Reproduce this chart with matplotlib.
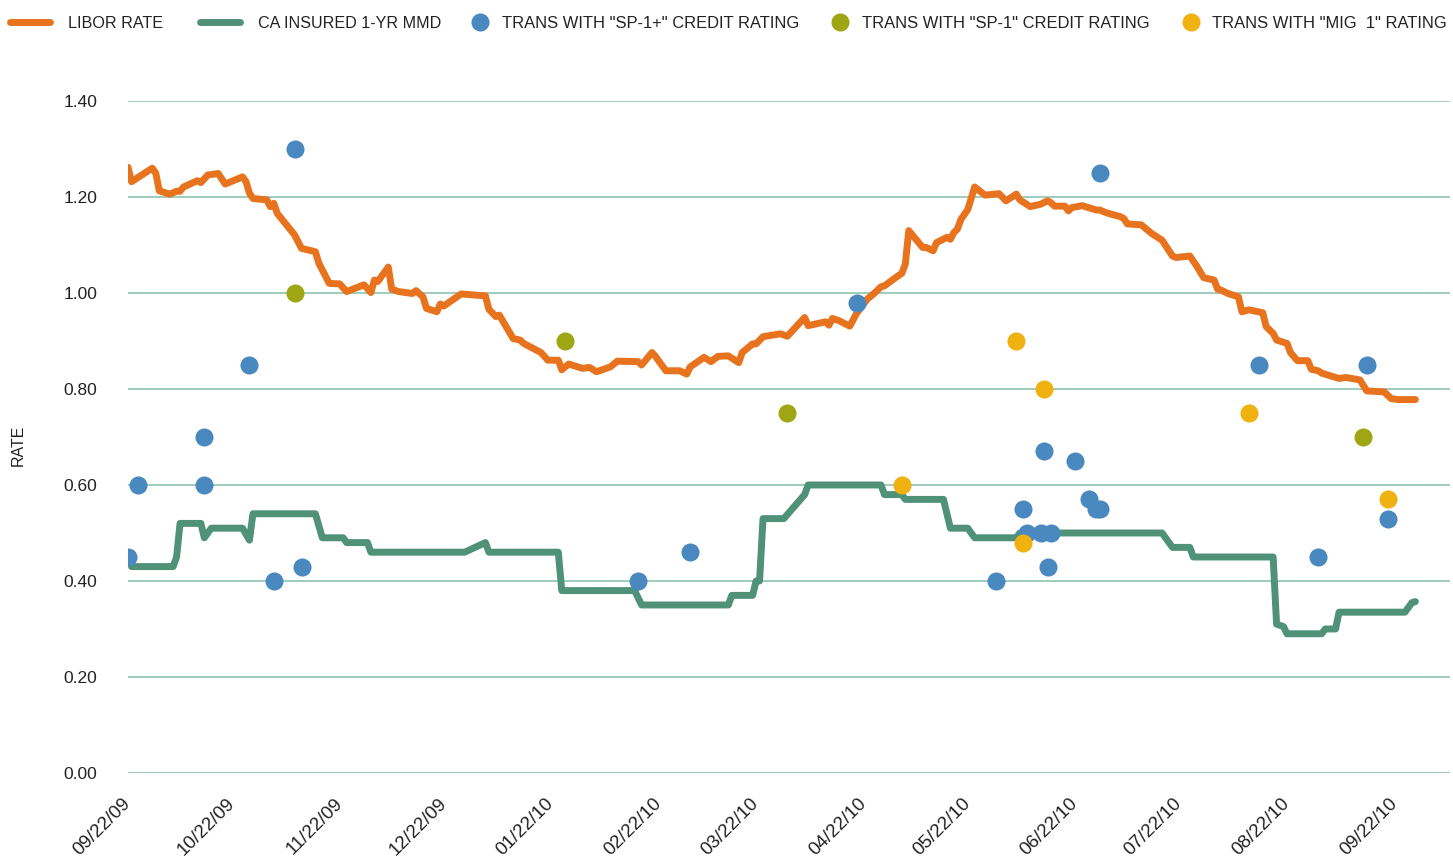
import matplotlib
matplotlib.use('Agg')
import matplotlib.pyplot as plt
import matplotlib.dates as mdates
import pandas as pd

# day offsets are counted from 09/22/09
start = pd.Timestamp('2009-09-22')

libor_days = [0, 1, 7, 8, 9, 12, 14, 15, 16, 20, 21, 23, 26, 28, 33, 34, 35, 36, 40, 41,
              42, 43, 48, 50, 54, 55, 58, 61, 63, 68, 70, 71, 72, 75, 76, 78, 82, 83, 85, 86,
              89, 90, 91, 96, 103, 104, 106, 107, 111, 113, 114, 119, 121, 124, 125, 127, 131, 133, 135, 139,
              141, 147, 148, 151, 152, 155, 159, 161, 162, 166, 168, 170, 173, 176, 177, 180, 181, 183, 188, 190,
              195, 196, 201, 202, 203, 205, 208, 210, 213, 215, 217, 218, 221, 223, 224, 225, 229, 230, 232, 233,
              236, 237, 238, 239, 240, 242, 244, 245, 247, 251, 253, 256, 257, 260, 263, 265, 266, 267, 270, 271,
              272, 275, 279, 280, 282, 286, 287, 288, 292, 295, 298, 301, 302, 306, 308, 309, 310, 313, 314, 315,
              317, 320, 321, 323, 327, 328, 330, 331, 334, 335, 337, 340, 341, 343, 344, 349, 351, 355, 357, 362,
              364, 366, 371]
libor_rate = [1.262, 1.232, 1.26, 1.25, 1.213, 1.206, 1.212, 1.212, 1.221, 1.234, 1.23, 1.246, 1.249, 1.227, 1.242, 1.232, 1.208, 1.197, 1.194, 1.18,
              1.187, 1.166, 1.121, 1.093, 1.086, 1.062, 1.020, 1.019, 1.003, 1.017, 1.001, 1.027, 1.024, 1.054, 1.008, 1.003, 0.999, 1.005, 0.992, 0.968,
              0.961, 0.977, 0.973, 0.998, 0.994, 0.966, 0.951, 0.954, 0.905, 0.902, 0.895, 0.876, 0.860, 0.860, 0.840, 0.852, 0.843, 0.845, 0.836, 0.846,
              0.858, 0.857, 0.850, 0.876, 0.868, 0.838, 0.838, 0.831, 0.846, 0.866, 0.857, 0.868, 0.869, 0.855, 0.876, 0.894, 0.894, 0.909, 0.915, 0.910,
              0.949, 0.932, 0.940, 0.933, 0.947, 0.942, 0.931, 0.958, 0.987, 0.999, 1.013, 1.015, 1.031, 1.041, 1.060, 1.130, 1.095, 1.095, 1.088, 1.105,
              1.116, 1.112, 1.126, 1.133, 1.153, 1.174, 1.221, 1.215, 1.204, 1.207, 1.192, 1.206, 1.194, 1.180, 1.185, 1.192, 1.188, 1.181, 1.181, 1.171,
              1.178, 1.182, 1.173, 1.173, 1.167, 1.159, 1.155, 1.144, 1.142, 1.124, 1.110, 1.077, 1.074, 1.077, 1.056, 1.044, 1.032, 1.027, 1.008, 1.006,
              0.999, 0.992, 0.961, 0.965, 0.959, 0.930, 0.916, 0.902, 0.895, 0.876, 0.859, 0.859, 0.841, 0.838, 0.833, 0.822, 0.824, 0.819, 0.796, 0.794,
              0.780, 0.778, 0.778]

mmd_days = [1, 13, 14, 15, 21, 22, 24, 33, 35, 36, 54, 56, 62, 63, 69, 70, 97, 103, 104, 124,
            125, 146, 148, 173, 174, 180, 181, 182, 183, 189, 195, 196, 217, 218, 223, 224, 235, 237, 242, 244,
            256, 257, 298, 301, 306, 307, 330, 331, 333, 334, 344, 345, 348, 349, 368, 370, 371]
mmd_rate = [0.43, 0.43, 0.45, 0.52, 0.52, 0.49, 0.51, 0.51, 0.485, 0.54, 0.54, 0.49, 0.49, 0.48, 0.48, 0.46, 0.46, 0.48, 0.46, 0.46,
            0.38, 0.38, 0.35, 0.35, 0.37, 0.37, 0.40, 0.40, 0.53, 0.53, 0.58, 0.60, 0.60, 0.58, 0.58, 0.57, 0.57, 0.51, 0.51, 0.49,
            0.49, 0.50, 0.50, 0.47, 0.47, 0.45, 0.45, 0.31, 0.305, 0.29, 0.29, 0.30, 0.30, 0.335, 0.335, 0.355, 0.357]

sp1plus_days = [0, 3, 22, 22, 35, 42, 48, 50, 147, 162, 210, 250, 258, 259, 263, 266, 264, 265, 273, 277,
                279, 280, 280, 326, 343, 357, 363]
sp1plus_rate = [0.45, 0.60, 0.70, 0.60, 0.85, 0.40, 1.30, 0.43, 0.40, 0.46, 0.98, 0.40, 0.55, 0.50, 0.50, 0.50, 0.67, 0.43, 0.65, 0.57,
                0.55, 0.55, 1.25, 0.85, 0.45, 0.85, 0.53]

sp1_days = [48, 126, 190, 356]
sp1_rate = [1.00, 0.90, 0.75, 0.70]

mig1_days = [223, 256, 258, 264, 323, 363]
mig1_rate = [0.60, 0.90, 0.48, 0.80, 0.75, 0.57]

yticks = [0.0, 0.2, 0.4, 0.6, 0.8, 1.0, 1.2, 1.4]


def to_dates(days):
    return start + pd.to_timedelta(days, unit='D')


orange = '#E8731E'
green = '#4F9278'
blue = '#4A89BF'
olive = '#9EA614'
yellow = '#F0B210'
txt = '#222222'
font = 'Liberation Sans'

fig = plt.figure(figsize=(14.53, 8.65), dpi=100)
ax = fig.add_axes([0.0881, 0.1064, 0.9099, 0.7768])

l1, = ax.plot(to_dates(libor_days), libor_rate, color=orange, lw=5, solid_capstyle='round',
              solid_joinstyle='round', label='LIBOR RATE', zorder=3)
l2, = ax.plot(to_dates(mmd_days), mmd_rate, color=green, lw=5, solid_capstyle='round',
              solid_joinstyle='round', label='CA INSURED 1-YR MMD', zorder=3)
d1, = ax.plot(to_dates(sp1plus_days), sp1plus_rate, 'o', ms=13, color=blue, mec='none',
              label='TRANS WITH "SP-1+" CREDIT RATING', zorder=4)
d2, = ax.plot(to_dates(sp1_days), sp1_rate, 'o', ms=13, color=olive, mec='none',
              label='TRANS WITH "SP-1" CREDIT RATING', zorder=4)
d3, = ax.plot(to_dates(mig1_days), mig1_rate, 'o', ms=13, color=yellow, mec='none',
              label='TRANS WITH "MIG  1" RATING', zorder=4)

ax.set_ylim(0, 1.4)
ax.set_xlim(start, start + pd.Timedelta(days=381))
ax.set_yticks(yticks)
ax.set_yticklabels(['%.2f' % v for v in yticks], fontsize=12.5, family=font, color=txt)

tick_dates = pd.date_range('2009-09-22', periods=13, freq=pd.DateOffset(months=1))
ax.set_xticks(tick_dates)
ax.xaxis.set_major_formatter(mdates.DateFormatter('%m/%d/%y'))
for lab in ax.get_xticklabels():
    lab.set_rotation(45)
    lab.set_ha('right')
    lab.set_va('center')
    lab.set_rotation_mode('anchor')
    lab.set_fontsize(13.5)
    lab.set_family(font)
    lab.set_color(txt)

ax.tick_params(axis='y', length=0, pad=22)
ax.tick_params(axis='x', length=0, pad=20)
for s in ax.spines.values():
    s.set_visible(False)
ax.yaxis.grid(True, color='#96c8b5', lw=1.3)
ax.set_axisbelow(True)

ax.set_ylabel('RATE', fontsize=11.5, family=font, color=txt)
ax.yaxis.set_label_coords(-0.077, 0.488)

# legend: lines and dots have different handle widths, so two legends side by side
leg_y = 1 - 23 / 865
leg1 = fig.legend(handles=[l1, l2], loc='center left', bbox_to_anchor=(10 / 1453, leg_y), ncol=2,
                  frameon=False, prop={'family': font, 'size': 11.6}, handlelength=2.5,
                  handletextpad=1.1, columnspacing=2.3, borderaxespad=0, borderpad=0)
leg2 = fig.legend(handles=[d1, d2, d3], loc='center left', bbox_to_anchor=(472 / 1453, leg_y), ncol=3,
                  frameon=False, prop={'family': font, 'size': 11.9}, handlelength=1.0,
                  handletextpad=0.8, columnspacing=2.0, borderaxespad=0, borderpad=0)
for lg in (leg1, leg2):
    for t in lg.get_texts():
        t.set_color(txt)

fig.savefig('out.png', dpi=100)
